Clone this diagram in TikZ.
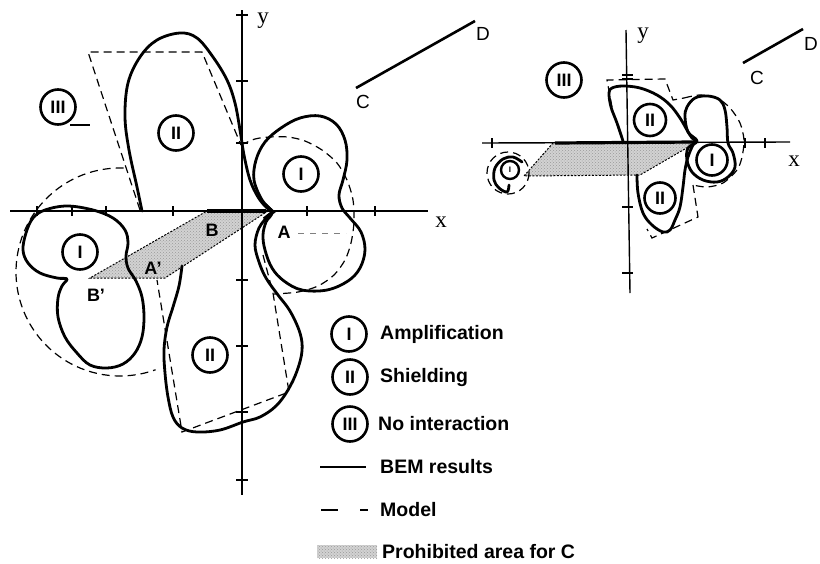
\documentclass[tikz,border=0pt]{standalone}
\usepackage{fontspec}
\setmainfont{Liberation Serif}
\setsansfont{Liberation Sans}
\usetikzlibrary{patterns}
\tikzset{
  bem/.style={line width=2.8pt, line join=round, line cap=round},
  model/.style={line width=1.2pt, dash pattern=on 8pt off 5pt},
  axisline/.style={line width=1.4pt},
  tickline/.style={line width=1.2pt},
  prohib/.style={fill=gray!35, postaction={pattern=crosshatch dots, pattern color=gray!80}},
  prohibedge/.style={line width=1pt, dash pattern=on 2pt off 1.5pt},
  reg/.style={circle, draw, line width=2.6pt, minimum size=35pt, inner sep=0pt,
              font=\sffamily\bfseries\fontsize{18}{18}\selectfont},
  smallreg/.style={circle, draw, line width=2.4pt, minimum size=18pt, inner sep=0pt,
              font=\sffamily\bfseries\fontsize{8}{8}\selectfont},
  lbl/.style={font=\sffamily\bfseries\fontsize{18}{18}\selectfont, inner sep=0pt},
  cdl/.style={font=\sffamily\fontsize{19}{19}\selectfont, inner sep=0pt},
  axl/.style={font=\fontsize{23}{23}\selectfont, inner sep=0pt},
  legtext/.style={font=\sffamily\bfseries\fontsize{19.5}{19.5}\selectfont, anchor=west, inner sep=0pt},
}
\begin{document}
\begin{tikzpicture}[x=1pt,y=-1pt]
\useasboundingbox (0,0) rectangle (820,563);

% ================= LEFT DIAGRAM =================
% prohibited area
\fill[prohib] (207,211) -- (268,211) -- (165,278) -- (90,278) -- cycle;
\draw[prohibedge] (268,211) -- (165,278) -- (90,278) -- (207,211);

% axes
\draw[axisline] (10,211) -- (428,211);
\draw[axisline] (242,10) -- (242,495);
\foreach \t in {37,72,106,173,307,375} \draw[tickline] (\t,206) -- (\t,216);
\foreach \t in {15,81,143,280,346,412,480} \draw[tickline] (236,\t) -- (248,\t);
\draw[line width=3.4pt] (207,211) -- (266,211);
\node[axl] (ly) at (263,21) {y};
\node[axl] (lx) at (441,222) {x};

% model (dashed)
\draw[model] (120,272) ++(272:104) arc[start angle=272, end angle=70, radius=104];
\draw[model] (140,210) -- (88,52) -- (202,52) -- (241,145);
\draw[model] plot[smooth] coordinates {(241,145) (255,139) (270,137) (288,137) (305,141) (322,150) (337,163) (347,180) (353,200) (354,222) (351,243) (345,260) (334,275) (318,286) (298,292) (274,294)};
\draw[model] (263,255) -- (273,293) -- (289,392) -- (182,432) -- (157,280);
\draw[line width=0.8pt, dash pattern=on 6pt off 6pt, gray] (298,233) -- (346,233);

% BEM results (solid)
\draw[bem] plot[smooth, tension=0.6] coordinates {(142,211) (137,187) (129,150) (125,117) (128,83) (140,57) (157,40) (180,33) (197,38) (213,57) (227,80) (235,103) (240,130) (244,155) (250,180) (258,197) (266,207) (272,212)};
\draw[bem] plot[smooth cycle, tension=0.6] coordinates {(272,212) (262,200) (254,180) (256,160) (265,142) (281,128) (300,118) (320,116) (336,124) (345,140) (347,160) (343,180) (339,195) (342,208) (350,218) (361,232) (365,250) (360,268) (348,281) (327,290) (302,290) (284,281) (272,268) (265,250) (263,235) (266,222)};
\draw[bem] plot[smooth, tension=0.6] coordinates {(268,216) (259,228) (255,245) (259,262) (266,278) (278,295) (290,311) (300,333) (302,351) (297,371) (288,390) (276,406) (260,417) (243,422) (220,430) (197,432) (182,428) (173,417) (168,397) (165,373) (164,350) (167,327) (173,307) (179,286) (182,266)};
\draw[bem] plot[smooth cycle, tension=0.6] coordinates {(33,218) (45,210) (67,206) (93,210) (113,218) (125,230) (128,243) (126,256) (128,268) (136,281) (142,297) (144,317) (142,337) (135,353) (123,364) (107,368) (90,365) (77,353) (65,337) (58,317) (58,298) (62,286) (67,279) (57,278) (40,273) (28,263) (23,250) (26,233)};
\draw[line width=3.6pt, line join=miter] (263,203) -- (273,212) -- (264,219);

% region labels
\node[reg] (l3) at (58,107) {III};
\draw[line width=1.3pt] (70,125) -- (90,125);
\node[reg] (l2t) at (176,133) {II};
\node[reg] (l1r) at (301,174) {I};
\node[reg] (l1l) at (80,252) {I};
\node[reg] (l2b) at (210,355) {II};

\node[lbl] (pA) at (284,232) {A};
\node[lbl] (pB) at (212,230) {B};
\node[lbl] (pA2) at (153,268) {A'};
\node[lbl] (pB2) at (96,295) {B'};

% crack CD
\coordinate (lC) at (356,88);
\coordinate (lD) at (475,21);
\draw[line width=2.6pt] (lC) -- (lD);
\node[cdl] (tC) at (363,102) {C};
\node[cdl] (tD) at (483,34) {D};

% ================= RIGHT DIAGRAM =================
\fill[prohib] (553,143) -- (697,142) -- (640,175) -- (524,176) -- cycle;
\draw[prohibedge] (697,142) -- (640,175) -- (524,176) -- (553,143);

\draw[axisline] (482,143) -- (790,142);
\draw[axisline] (626,30) -- (630,293);
\foreach \t in {492,745,765} \draw[tickline] (\t,138) -- (\t,148);
\foreach \t in {75,79,207,273} \draw[tickline] (622,\t) -- (633,\t);
\draw[line width=3.2pt] (555,143) -- (695,142);
\node[axl] (ry) at (643,36) {y};
\node[axl] (rx) at (794,161) {x};

% model
\draw[model] (612,107) -- (607,80) -- (665,79) -- (673,100) -- (684,98);
\draw[model] plot[smooth] coordinates {(684,98) (700,95) (717,98) (730,108) (740,123) (744,140) (742,157) (737,170) (723,183) (707,187) (693,185)};
\draw[model] (693,185) -- (698,217) -- (652,238) -- (647,229);
\draw[model] (508,173) circle[radius=21];

% BEM
\draw[bem] plot[smooth, tension=0.6] coordinates {(623,141) (617,123) (611,107) (609,93) (612,88) (623,86) (640,88) (657,95) (670,105) (680,118) (687,130) (692,138) (697,141)};
\draw[bem] plot[smooth cycle, tension=0.6] coordinates {(697,141) (688,132) (685,117) (687,107) (695,98) (708,96) (720,100) (725,110) (727,127) (728,143) (733,153) (735,167) (728,177) (717,182) (703,180) (692,172) (687,160) (688,148)};
\draw[bem] plot[smooth, tension=0.6] coordinates {(637,175) (638,193) (643,213) (652,225) (663,232) (670,230) (675,220) (680,207) (683,187) (685,170) (688,157) (693,145) (697,141)};
\draw[bem] plot[smooth, tension=0.6] coordinates {(522,162) (513,157) (503,159) (495,168) (494,180) (499,188) (507,192) (509,185)};

\node[reg] (r3) at (564,80) {III};
\node[reg, minimum size=32pt] (r2t) at (650,120) {II};
\node[reg, minimum size=31pt] (r1) at (712,160) {I};
\node[reg, minimum size=31pt] (r2b) at (660,198) {II};
\node[smallreg] (r1s) at (510,170) {I};

\coordinate (rC) at (743,63);
\coordinate (rD) at (803,29);
\draw[line width=2.6pt] (rC) -- (rD);
\node[cdl] (rtC) at (757,78) {C};
\node[cdl] (rtD) at (811,44) {D};

% ================= LEGEND =================
\node[reg] (k1) at (349,334) {I};
\node[legtext] (k1t) at (380,334) {Amplification};
\node[reg] (k2) at (350,377) {II};
\node[legtext] (k2t) at (380,377) {Shielding};
\node[reg] (k3) at (350,424) {III};
\node[legtext] (k3t) at (378,424) {No interaction};
\coordinate (kb1) at (320,467);
\coordinate (kb2) at (366,467);
\draw[line width=2.6pt] (kb1) -- (kb2);
\node[legtext] (k4t) at (380,467) {BEM results};
\coordinate (km1) at (321,510);
\coordinate (km2) at (338,510);
\coordinate (km3) at (360,510);
\coordinate (km4) at (368,510);
\draw[line width=2.6pt] (km1) -- (km2) (km3) -- (km4);
\node[legtext] (k5t) at (380,510) {Model};
\fill[prohib] (317,545) rectangle (377,558);
\node[legtext] (k6t) at (382,552) {Prohibited area for C};

\end{tikzpicture}
\end{document}
